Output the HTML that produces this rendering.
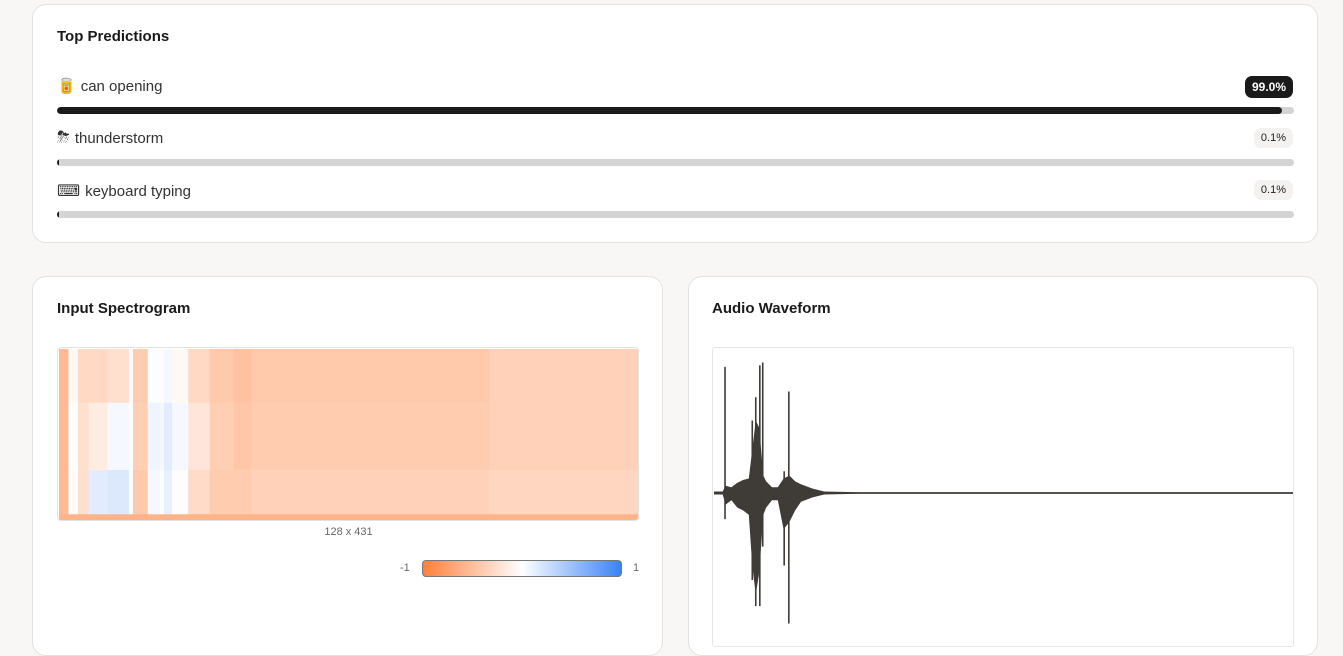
<!DOCTYPE html>
<html><head><meta charset="utf-8"><style>
*{box-sizing:border-box;margin:0;padding:0}
body{width:1343px;height:635px;overflow:hidden;background:#f8f7f5;font-family:"Liberation Sans","Noto Sans CJK SC",sans-serif;color:#1a1a1a;position:relative}
.card{position:absolute;background:#fff;border:1px solid #e4e2de;border-radius:14px}
h2{position:absolute;font-size:15px;font-weight:bold;color:#1a1a1a}
.lbl{position:absolute;left:24px;font-size:15px;color:#333;display:flex;align-items:center;gap:5px}
.track{position:absolute;left:24px;width:1237px;height:7px;border-radius:4px;background:#d4d4d4;overflow:hidden}
.fill{height:100%;background:#1a1a1a;border-radius:4px}
.badge{position:absolute;right:24px;font-size:11px;padding:4px 7px;border-radius:7px;background:#f3f2f0;color:#222}
</style></head><body>
<div class="card" style="left:32px;top:4px;width:1286px;height:239px">
<h2 style="left:24px;top:23px">Top Predictions</h2>
<div class="lbl" style="top:72px"><span style="font-size:15px">🥫</span>can opening</div>
<div class="badge" style="top:71px;background:#1a1a1a;color:#fff;font-weight:bold;font-size:12px">99.0%</div>
<div class="track" style="top:102px"><div class="fill" style="width:99%"></div></div>
<div class="lbl" style="top:124px"><span style="font-size:16px">⛈</span>thunderstorm</div>
<div class="badge" style="top:123px">0.1%</div>
<div class="track" style="top:154px"><div class="fill" style="width:0.2%"></div></div>
<div class="lbl" style="top:176px"><span style="font-size:16px">⌨</span>keyboard typing</div>
<div class="badge" style="top:175px">0.1%</div>
<div class="track" style="top:206px"><div class="fill" style="width:0.2%"></div></div>
</div>

<div class="card" style="left:32px;top:276px;width:631px;height:380px">
<h2 style="left:24px;top:23px">Input Spectrogram</h2>
<svg id="spec" style="position:absolute;left:24px;top:70px;border-radius:4px;border:1px solid #e4e2de" width="582" height="174"></svg>
<div style="position:absolute;left:0;width:631px;top:249px;text-align:center;font-size:11px;color:#666">128 x 431</div>
<div style="position:absolute;left:367px;top:285px;font-size:11px;color:#666">-1</div>
<div style="position:absolute;left:389px;top:283px;width:200px;height:17px;border:1px solid #777;border-radius:4px;background:linear-gradient(90deg,#ff7f3a,#fff 50%,#3b82f6)"></div>
<div style="position:absolute;left:600px;top:285px;font-size:11px;color:#666">1</div>
</div>

<div class="card" style="left:688px;top:276px;width:630px;height:380px">
<h2 style="left:23px;top:23px">Audio Waveform</h2>
<svg id="wave" style="position:absolute;left:23px;top:70px;border:1px solid #e8e6e2;border-radius:3px" width="582" height="300"></svg>
</div>

<script>
// Spectrogram column bands (in data columns 0..431) and values (top, middle, bottom rows)
const specEdges=[0,7,14,22,36,52,55,66,75,78,84,96,112,130,143,320,431];
const specTop=[-0.55,-0.05,-0.3,-0.3,-0.25,-0.02,-0.4,0.02,-0.02,0.05,-0.05,-0.3,-0.42,-0.48,-0.42,-0.36];
const specMid=[-0.55,0.02,-0.25,-0.15,0.05,0.02,-0.38,0.08,0.05,0.15,0.05,-0.2,-0.38,-0.44,-0.4,-0.36];
const specBot=[-0.55,-0.02,-0.25,0.15,0.18,-0.02,-0.42,0.05,0.02,0.12,-0.02,-0.28,-0.4,-0.4,-0.36,-0.32];
const specRows=128, specCols=431;
// Waveform envelope (time fraction, upper and lower amplitudes)
const waveT=[0,0.015,0.02,0.03,0.04,0.05,0.06,0.066,0.072,0.078,0.085,0.09,0.1,0.11,0.12,0.13,0.14,0.15,0.17,0.19,0.25,1];
const waveUp=[0.01,0.01,0.05,0.04,0.07,0.09,0.1,0.3,0.5,0.45,0.12,0.08,0.04,0.04,0.1,0.12,0.08,0.06,0.03,0.01,0.005,0.005];
const waveLo=[0.01,0.01,0.08,0.05,0.1,0.12,0.15,0.5,0.7,0.55,0.15,0.1,0.05,0.05,0.25,0.2,0.12,0.06,0.03,0.01,0.005,0.005];
const spikeT=[0.019,0.066,0.072,0.079,0.084,0.121,0.129];
const spikeHi=[0.87,0.5,0.66,0.88,0.9,0.15,0.7];
const spikeLo=[0.18,0.6,0.78,0.78,0.37,0.5,0.9];

const NS="http://www.w3.org/2000/svg";
function col(v){const o=[255,128,58],w=[255,255,255],b=[59,130,246];const t=Math.abs(v),c=v<0?o:b;return `rgb(${w.map((x,i)=>Math.round(x+(c[i]-x)*t)).join(',')})`;}
const spec=document.getElementById('spec');const SW=580,SH=172;
const sx=c=>1+c/specCols*SW, sy=r=>1+r/specRows*SH;
for(let i=0;i<specEdges.length-1;i++){
  const rows=[[0,40,specTop[i]],[40,90,specMid[i]],[90,123,specBot[i]],[123,128,Math.min(specBot[i],-0.6)]];
  rows.forEach(([r0,r1,v])=>{
    const r=document.createElementNS(NS,'rect');
    
    
    r.setAttribute('x',sx(specEdges[i]));r.setAttribute('y',sy(r0));
    r.setAttribute('width',sx(specEdges[i+1])-sx(specEdges[i])+0.5);r.setAttribute('height',sy(r1)-sy(r0)+0.5);
    r.setAttribute('fill',col(v));spec.appendChild(r);
  });
}
const wave=document.getElementById('wave');const WW=580,cy=145,A=145;
const wx=t=>1+t*WW;
let pts=waveT.map((t,i)=>`${wx(t)},${cy-waveUp[i]*A}`).concat(waveT.slice().reverse().map((t,j)=>{const i=waveT.length-1-j;return `${wx(t)},${cy+waveLo[i]*A}`;}));
const poly=document.createElementNS(NS,'polygon');


poly.setAttribute('points',pts.join(' '));poly.setAttribute('fill','#3f3b37');wave.appendChild(poly);
const base=document.createElementNS(NS,'line');


base.setAttribute('x1',wx(0));base.setAttribute('x2',wx(1));base.setAttribute('y1',cy);base.setAttribute('y2',cy);base.setAttribute('stroke','#3f3b37');base.setAttribute('stroke-width','1.5');wave.appendChild(base);
spikeT.forEach((t,i)=>{
  const l=document.createElementNS(NS,'line');
  
  
  l.setAttribute('x1',wx(t));l.setAttribute('x2',wx(t));l.setAttribute('y1',cy-spikeHi[i]*A);l.setAttribute('y2',cy+spikeLo[i]*A);
  l.setAttribute('stroke','#3f3b37');l.setAttribute('stroke-width','1.6');wave.appendChild(l);
});
</script>
</body></html>
